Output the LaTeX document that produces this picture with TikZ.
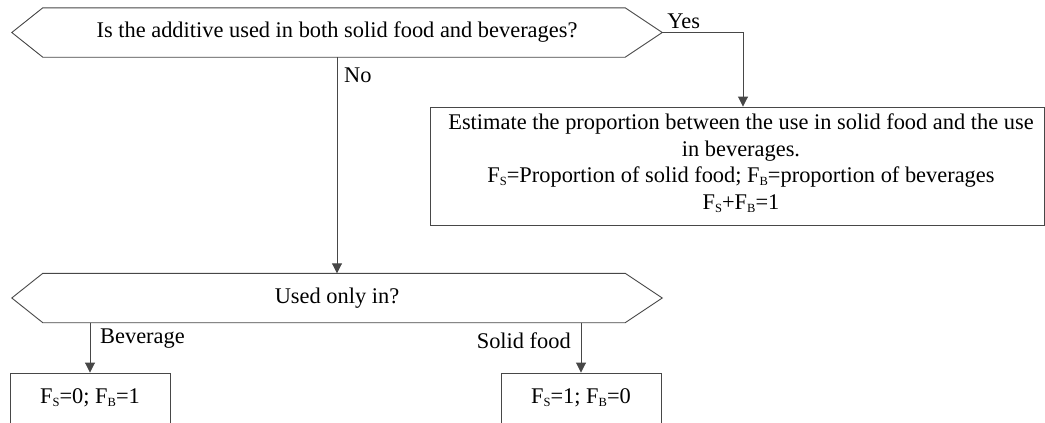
\documentclass[tikz,border=0pt]{standalone}
\usepackage{fontspec}
\setmainfont{Liberation Serif}
\usetikzlibrary{arrows.meta,calc}
\newcommand\sbs[1]{\raisebox{-0.3ex}{\fontsize{12.5}{12.5}\selectfont #1}}
\begin{document}
\begin{tikzpicture}[x=1pt,y=-1pt,
  line/.style={draw=black!72,line width=0.9pt},
  arr/.style={line,-{Triangle[length=10pt,width=10pt]}},
  txt/.style={font=\fontsize{22.4}{26.5}\selectfont,inner sep=0pt},
  hexnode/.style={txt,minimum width=650pt,minimum height=49pt},
  boxnode/.style={txt,draw=black!72,line width=0.9pt,align=center}]
\useasboundingbox (0,0) rectangle (1045,423);
% decision 1
\node[hexnode] (q1) at (337,32.5) {Is the additive used in both solid food and beverages?};
\draw[line] (q1.west) -- ([xshift=31pt]q1.north west) -- ([xshift=-37pt]q1.north east) -- (q1.east) -- ([xshift=-37pt]q1.south east) -- ([xshift=31pt]q1.south west) -- cycle;
% estimate box
\node[boxnode,minimum width=614pt,minimum height=118pt] (r) at (737,166) {};
\node[txt,align=center] (rt) at (741,163) {Estimate the proportion between the use in solid food and the use\\in beverages.\\F\sbs{S}=Proportion of solid food; F\sbs{B}=proportion of beverages\\F\sbs{S}+F\sbs{B}=1};
% decision 2
\node[hexnode] (q2) at (337,298) {Used only in?};
\draw[line] (q2.west) -- ([xshift=31pt]q2.north west) -- ([xshift=-37pt]q2.north east) -- (q2.east) -- ([xshift=-37pt]q2.south east) -- ([xshift=31pt]q2.south west) -- cycle;
% result boxes
\node[boxnode,minimum width=160pt,minimum height=50pt] (b1) at (90,398) {F\sbs{S}=0; F\sbs{B}=1};
\node[boxnode,minimum width=160pt,minimum height=50pt] (b2) at (581,398) {F\sbs{S}=1; F\sbs{B}=0};
% connectors
\coordinate (yc) at ([xshift=6pt]r.north);
\draw[arr] (q1.east) -| (yc);
\node[txt,anchor=south west] (yes) at ([xshift=5pt,yshift=4pt]q1.east) {Yes};
\draw[arr] (q1.south) -- (q2.north);
\node[txt,anchor=west] (no) at ([xshift=7pt,yshift=-18pt]q1.south) {No};
\draw[arr] (b1.north |- q2.south) -- (b1.north);
\node[txt,anchor=west] (bev) at ([xshift=10pt,yshift=-16pt]b1.north |- q2.south) {Beverage};
\draw[arr] (b2.north |- q2.south) -- (b2.north);
\node[txt,anchor=east] (sf) at ([xshift=-10pt,yshift=-18pt]b2.north |- q2.south) {Solid food};
\end{tikzpicture}
\end{document}
